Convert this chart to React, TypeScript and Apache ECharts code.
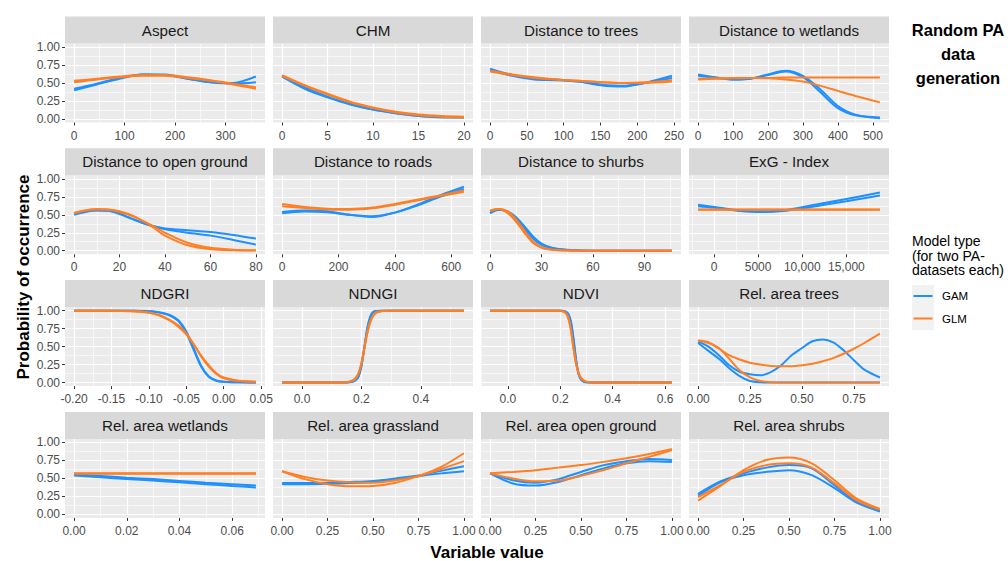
import React, { useEffect, useRef } from 'react';
import * as echarts from 'echarts';

// ---------- DATA ----------
const aspectX = [0, 45, 90, 135, 180, 225, 270, 315, 360];
const aspectGam1 = [0.40, 0.48, 0.56, 0.62, 0.62, 0.56, 0.51, 0.50, 0.59];
const aspectGam2 = [0.42, 0.49, 0.57, 0.62, 0.61, 0.56, 0.51, 0.49, 0.51];
const aspectGlm1 = [0.53, 0.56, 0.59, 0.61, 0.61, 0.58, 0.54, 0.49, 0.44];
const aspectGlm2 = [0.51, 0.55, 0.58, 0.60, 0.60, 0.57, 0.53, 0.48, 0.42];

const chmX = [0, 2.5, 5, 7.5, 10, 12.5, 15, 17.5, 20];
const chmGam1 = [0.60, 0.44, 0.31, 0.21, 0.13, 0.08, 0.05, 0.03, 0.02];
const chmGam2 = [0.59, 0.42, 0.30, 0.20, 0.13, 0.08, 0.04, 0.02, 0.02];
const chmGlm1 = [0.61, 0.47, 0.35, 0.24, 0.16, 0.10, 0.06, 0.04, 0.03];
const chmGlm2 = [0.60, 0.46, 0.34, 0.23, 0.15, 0.09, 0.05, 0.03, 0.02];

const treesX = [0, 30, 60, 90, 120, 150, 180, 210, 247];
const treesGam1 = [0.70, 0.61, 0.56, 0.55, 0.52, 0.47, 0.45, 0.50, 0.60];
const treesGam2 = [0.68, 0.60, 0.55, 0.54, 0.52, 0.48, 0.46, 0.50, 0.57];
const treesGlm1 = [0.67, 0.62, 0.58, 0.55, 0.53, 0.51, 0.50, 0.51, 0.54];
const treesGlm2 = [0.66, 0.61, 0.57, 0.55, 0.53, 0.51, 0.50, 0.50, 0.52];

const wetX = [0, 50, 100, 150, 200, 250, 300, 350, 400, 450, 520];
const wetGam1 = [0.62, 0.58, 0.55, 0.56, 0.62, 0.67, 0.60, 0.41, 0.18, 0.06, 0.02];
const wetGam2 = [0.60, 0.57, 0.55, 0.56, 0.61, 0.66, 0.58, 0.37, 0.15, 0.05, 0.01];
const wetGlm1 = [0.56, 0.565, 0.57, 0.57, 0.57, 0.575, 0.575, 0.575, 0.575, 0.575, 0.575];
const wetGlm2 = [0.55, 0.56, 0.565, 0.57, 0.565, 0.55, 0.52, 0.46, 0.39, 0.32, 0.23];

const openX = [0, 5, 10, 15, 20, 25, 30, 35, 40, 50, 60, 70, 80];
const openGam1 = [0.51, 0.55, 0.565, 0.56, 0.52, 0.45, 0.39, 0.34, 0.31, 0.285, 0.26, 0.22, 0.17];
const openGam2 = [0.50, 0.54, 0.56, 0.555, 0.51, 0.45, 0.39, 0.34, 0.30, 0.25, 0.21, 0.15, 0.085];
const openGlm1 = [0.53, 0.56, 0.575, 0.57, 0.54, 0.49, 0.42, 0.34, 0.25, 0.11, 0.04, 0.015, 0.005];
const openGlm2 = [0.52, 0.56, 0.58, 0.575, 0.55, 0.50, 0.42, 0.32, 0.21, 0.075, 0.02, 0.005, 0.002];

const roadsX = [0, 80, 160, 240, 320, 400, 480, 560, 645];
const roadsGam1 = [0.54, 0.56, 0.55, 0.50, 0.47, 0.53, 0.64, 0.77, 0.89];
const roadsGam2 = [0.52, 0.545, 0.535, 0.50, 0.48, 0.53, 0.63, 0.75, 0.86];
const roadsGlm1 = [0.65, 0.61, 0.585, 0.58, 0.60, 0.65, 0.71, 0.77, 0.84];
const roadsGlm2 = [0.62, 0.595, 0.575, 0.57, 0.59, 0.64, 0.70, 0.76, 0.82];

const shrubDistX = [0, 5, 10, 15, 20, 25, 30, 35, 40, 50, 60, 80, 106];
const shrubDistGam1 = [0.53, 0.57, 0.55, 0.47, 0.34, 0.20, 0.10, 0.05, 0.025, 0.005, 0, 0, 0];
const shrubDistGam2 = [0.52, 0.57, 0.54, 0.45, 0.31, 0.17, 0.08, 0.04, 0.02, 0.003, 0, 0, 0];
const shrubDistGlm1 = [0.55, 0.58, 0.53, 0.41, 0.25, 0.11, 0.04, 0.015, 0.005, 0, 0, 0, 0];
const shrubDistGlm2 = [0.56, 0.58, 0.55, 0.44, 0.28, 0.13, 0.05, 0.02, 0.007, 0.001, 0, 0, 0];

const exgX = [-1800, 0, 2500, 5000, 7500, 10000, 12500, 15000, 18800];
const exgGam1 = [0.64, 0.61, 0.565, 0.545, 0.555, 0.605, 0.665, 0.72, 0.81];
const exgGam2 = [0.62, 0.60, 0.56, 0.54, 0.55, 0.59, 0.64, 0.69, 0.77];
const exgGlm1 = [0.575, 0.575, 0.575, 0.575, 0.575, 0.575, 0.575, 0.575, 0.575];
const exgGlm2 = [0.57, 0.57, 0.57, 0.57, 0.57, 0.57, 0.57, 0.57, 0.57];

const ndgriX = [-0.20, -0.15, -0.12, -0.10, -0.09, -0.08, -0.07, -0.06, -0.05, -0.04, -0.03, -0.02, -0.01, 0.00, 0.02, 0.043];
const ndgriGam1 = [1, 1, 1, 0.99, 0.98, 0.96, 0.92, 0.85, 0.69, 0.45, 0.22, 0.08, 0.025, 0.01, 0.002, 0];
const ndgriGam2 = [1, 1, 1, 0.995, 0.985, 0.965, 0.93, 0.86, 0.71, 0.47, 0.23, 0.085, 0.03, 0.01, 0.002, 0];
const ndgriGlm1 = [1, 1, 0.995, 0.975, 0.95, 0.915, 0.86, 0.79, 0.68, 0.53, 0.36, 0.22, 0.12, 0.06, 0.02, 0.01];
const ndgriGlm2 = [1, 1, 0.99, 0.97, 0.945, 0.905, 0.85, 0.77, 0.67, 0.53, 0.37, 0.24, 0.13, 0.07, 0.025, 0.01];

const ndngiX = [-0.067, 0.10, 0.15, 0.17, 0.18, 0.19, 0.20, 0.21, 0.22, 0.23, 0.24, 0.25, 0.27, 0.30, 0.40, 0.545];
const ndngiGam1 = [0, 0, 0.001, 0.01, 0.03, 0.08, 0.22, 0.48, 0.75, 0.91, 0.98, 0.995, 1, 1, 1, 1];
const ndngiGam2 = [0, 0, 0.001, 0.012, 0.035, 0.09, 0.24, 0.50, 0.76, 0.92, 0.985, 0.997, 1, 1, 1, 1];
const ndngiGlm1 = [0, 0, 0.005, 0.03, 0.06, 0.13, 0.27, 0.48, 0.69, 0.84, 0.93, 0.97, 0.995, 1, 1, 1];
const ndngiGlm2 = [0, 0, 0.004, 0.025, 0.055, 0.12, 0.26, 0.48, 0.70, 0.86, 0.94, 0.98, 0.997, 1, 1, 1];

const ndviX = [-0.068, 0.10, 0.20, 0.21, 0.22, 0.23, 0.24, 0.25, 0.26, 0.27, 0.28, 0.29, 0.30, 0.32, 0.40, 0.626];
const ndviGam1 = [1, 1, 1, 0.998, 0.99, 0.96, 0.86, 0.63, 0.33, 0.12, 0.04, 0.01, 0.003, 0, 0, 0];
const ndviGam2 = [1, 1, 1, 0.997, 0.985, 0.95, 0.84, 0.60, 0.31, 0.11, 0.035, 0.01, 0.002, 0, 0, 0];
const ndviGlm1 = [1, 1, 0.998, 0.99, 0.975, 0.91, 0.75, 0.49, 0.26, 0.125, 0.055, 0.025, 0.01, 0.002, 0, 0];
const ndviGlm2 = [1, 1, 0.998, 0.99, 0.97, 0.90, 0.74, 0.49, 0.27, 0.13, 0.06, 0.028, 0.012, 0.003, 0, 0];

const relTreesX = [0, 0.05, 0.10, 0.15, 0.20, 0.25, 0.30, 0.35, 0.40, 0.45, 0.50, 0.55, 0.60, 0.65, 0.70, 0.75, 0.80, 0.875];
const relTreesGam1 = [0.57, 0.50, 0.38, 0.24, 0.15, 0.115, 0.10, 0.145, 0.24, 0.38, 0.48, 0.575, 0.60, 0.56, 0.45, 0.31, 0.18, 0.07];
const relTreesGam2 = [0.55, 0.44, 0.33, 0.20, 0.09, 0.02, 0.003, 0, 0, 0, 0, 0, 0, 0, 0, 0, 0, 0];
const relTreesGlm1 = [0.585, 0.56, 0.47, 0.38, 0.32, 0.275, 0.25, 0.23, 0.225, 0.225, 0.24, 0.26, 0.295, 0.34, 0.40, 0.47, 0.55, 0.68];
const relTreesGlm2 = [0.585, 0.55, 0.48, 0.33, 0.17, 0.07, 0.02, 0.005, 0, 0, 0, 0, 0, 0, 0, 0, 0, 0];

const relWetX = [0, 0.01, 0.02, 0.03, 0.04, 0.05, 0.06, 0.069];
const relWetGam1 = [0.555, 0.535, 0.51, 0.49, 0.465, 0.44, 0.42, 0.40];
const relWetGam2 = [0.54, 0.515, 0.49, 0.47, 0.445, 0.42, 0.395, 0.375];
const relWetGlm1 = [0.57, 0.57, 0.57, 0.57, 0.57, 0.57, 0.57, 0.57];
const relWetGlm2 = [0.565, 0.565, 0.565, 0.565, 0.565, 0.565, 0.565, 0.565];

const grassX = [0, 0.125, 0.25, 0.375, 0.5, 0.625, 0.75, 0.875, 1.0];
const grassGam1 = [0.435, 0.435, 0.44, 0.45, 0.465, 0.50, 0.54, 0.605, 0.67];
const grassGam2 = [0.42, 0.42, 0.425, 0.435, 0.45, 0.48, 0.53, 0.57, 0.60];
const grassGlm1 = [0.60, 0.52, 0.47, 0.445, 0.44, 0.475, 0.535, 0.66, 0.85];
const grassGlm2 = [0.60, 0.49, 0.42, 0.39, 0.395, 0.44, 0.53, 0.63, 0.74];

const relOpenX = [0, 0.125, 0.25, 0.375, 0.5, 0.625, 0.75, 0.875, 1.0];
const relOpenGam1 = [0.57, 0.475, 0.44, 0.49, 0.59, 0.685, 0.74, 0.77, 0.755];
const relOpenGam2 = [0.57, 0.43, 0.40, 0.45, 0.545, 0.64, 0.71, 0.74, 0.73];
const relOpenGlm1 = [0.57, 0.59, 0.615, 0.65, 0.685, 0.73, 0.78, 0.84, 0.91];
const relOpenGlm2 = [0.57, 0.50, 0.46, 0.47, 0.535, 0.615, 0.71, 0.80, 0.895];

const relShrubX = [0, 0.125, 0.25, 0.375, 0.5, 0.625, 0.75, 0.875, 1.0];
const relShrubGam1 = [0.285, 0.46, 0.57, 0.65, 0.685, 0.64, 0.405, 0.17, 0.05];
const relShrubGam2 = [0.26, 0.45, 0.545, 0.59, 0.615, 0.545, 0.365, 0.16, 0.04];
const relShrubGlm1 = [0.19, 0.40, 0.615, 0.755, 0.79, 0.71, 0.475, 0.215, 0.075];
const relShrubGlm2 = [0.24, 0.41, 0.59, 0.685, 0.71, 0.65, 0.43, 0.19, 0.065];

// tick values and labels
const aspectTicks = [0, 100, 200, 300];
const aspectLabels = ['0', '100', '200', '300'];
const chmTicks = [0, 5, 10, 15, 20];
const chmLabels = ['0', '5', '10', '15', '20'];
const treesTicks = [0, 50, 100, 150, 200, 250];
const treesLabels = ['0', '50', '100', '150', '200', '250'];
const wetTicks = [0, 100, 200, 300, 400, 500];
const wetLabels = ['0', '100', '200', '300', '400', '500'];
const openTicks = [0, 20, 40, 60, 80];
const openLabels = ['0', '20', '40', '60', '80'];
const roadsTicks = [0, 200, 400, 600];
const roadsLabels = ['0', '200', '400', '600'];
const shrubDistTicks = [0, 30, 60, 90];
const shrubDistLabels = ['0', '30', '60', '90'];
const exgTicks = [0, 5000, 10000, 15000];
const exgLabels = ['0', '5000', '10,000', '15,000'];
const ndgriTicks = [-0.2, -0.15, -0.1, -0.05, 0, 0.05];
const ndgriLabels = ['-0.20', '-0.15', '-0.10', '-0.05', '0.00', '0.05'];
const ndngiTicks = [0, 0.2, 0.4];
const ndngiLabels = ['0.0', '0.2', '0.4'];
const ndviTicks = [0, 0.2, 0.4, 0.6];
const ndviLabels = ['0.0', '0.2', '0.4', '0.6'];
const relTreesTicks = [0, 0.25, 0.5, 0.75];
const relTreesLabels = ['0.00', '0.25', '0.50', '0.75'];
const relWetTicks = [0, 0.02, 0.04, 0.06];
const relWetLabels = ['0.00', '0.02', '0.04', '0.06'];
const unitTicks = [0, 0.25, 0.5, 0.75, 1];
const unitLabels = ['0.00', '0.25', '0.50', '0.75', '1.00'];
const yTicks = [0, 0.25, 0.5, 0.75, 1];
const yLabels = ['0.00', '0.25', '0.50', '0.75', '1.00'];

const panels = [
  { title: 'Aspect', x: aspectX, gam: [aspectGam1, aspectGam2], glm: [aspectGlm1, aspectGlm2], ticks: aspectTicks, labels: aspectLabels },
  { title: 'CHM', x: chmX, gam: [chmGam1, chmGam2], glm: [chmGlm1, chmGlm2], ticks: chmTicks, labels: chmLabels },
  { title: 'Distance to trees', x: treesX, gam: [treesGam1, treesGam2], glm: [treesGlm1, treesGlm2], ticks: treesTicks, labels: treesLabels },
  { title: 'Distance to wetlands', x: wetX, gam: [wetGam1, wetGam2], glm: [wetGlm1, wetGlm2], ticks: wetTicks, labels: wetLabels },
  { title: 'Distance to open ground', x: openX, gam: [openGam1, openGam2], glm: [openGlm1, openGlm2], ticks: openTicks, labels: openLabels },
  { title: 'Distance to roads', x: roadsX, gam: [roadsGam1, roadsGam2], glm: [roadsGlm1, roadsGlm2], ticks: roadsTicks, labels: roadsLabels },
  { title: 'Distance to shurbs', x: shrubDistX, gam: [shrubDistGam1, shrubDistGam2], glm: [shrubDistGlm1, shrubDistGlm2], ticks: shrubDistTicks, labels: shrubDistLabels },
  { title: 'ExG - Index', x: exgX, gam: [exgGam1, exgGam2], glm: [exgGlm1, exgGlm2], ticks: exgTicks, labels: exgLabels },
  { title: 'NDGRI', x: ndgriX, gam: [ndgriGam1, ndgriGam2], glm: [ndgriGlm1, ndgriGlm2], ticks: ndgriTicks, labels: ndgriLabels },
  { title: 'NDNGI', x: ndngiX, gam: [ndngiGam1, ndngiGam2], glm: [ndngiGlm1, ndngiGlm2], ticks: ndngiTicks, labels: ndngiLabels },
  { title: 'NDVI', x: ndviX, gam: [ndviGam1, ndviGam2], glm: [ndviGlm1, ndviGlm2], ticks: ndviTicks, labels: ndviLabels },
  { title: 'Rel. area trees', x: relTreesX, gam: [relTreesGam1, relTreesGam2], glm: [relTreesGlm1, relTreesGlm2], ticks: relTreesTicks, labels: relTreesLabels },
  { title: 'Rel. area wetlands', x: relWetX, gam: [relWetGam1, relWetGam2], glm: [relWetGlm1, relWetGlm2], ticks: relWetTicks, labels: relWetLabels },
  { title: 'Rel. area grassland', x: grassX, gam: [grassGam1, grassGam2], glm: [grassGlm1, grassGlm2], ticks: unitTicks, labels: unitLabels },
  { title: 'Rel. area open ground', x: relOpenX, gam: [relOpenGam1, relOpenGam2], glm: [relOpenGlm1, relOpenGlm2], ticks: unitTicks, labels: unitLabels },
  { title: 'Rel. area shrubs', x: relShrubX, gam: [relShrubGam1, relShrubGam2], glm: [relShrubGlm1, relShrubGlm2], ticks: unitTicks, labels: unitLabels },
];

// ---------- STYLE ----------
const FONT = '"Liberation Sans", Arial, Helvetica, sans-serif';
const BLUE = '#1E90FF';
const ORANGE = '#FF7F24';
const PANEL_W = 200;
const PANEL_H = 79;
const STRIP_H = 27;
const COL_X = [65, 273, 481, 689];
const ROW_Y = [43.5, 175.3, 307.1, 438.9];

function expand(xs: number[]): [number, number] {
  const a = xs[0];
  const b = xs[xs.length - 1];
  const d = (b - a) * 0.05;
  return [a - d, b + d];
}

function minorsOf(ticks: number[], lo: number, hi: number) {
  const step = ticks[1] - ticks[0];
  const out: number[] = [];
  for (let k = -1; k < ticks.length; k++) {
    const v = ticks[0] + (k + 0.5) * step;
    if (v > lo && v < hi) out.push(v);
  }
  return out;
}

function labelFor(ticks: number[], labels: string[]) {
  return (v: number) => {
    let best = 0;
    for (let i = 1; i < ticks.length; i++) {
      if (Math.abs(ticks[i] - v) < Math.abs(ticks[best] - v)) best = i;
    }
    return labels[best];
  };
}

function buildOption() {
  const grid: any[] = [];
  const xAxis: any[] = [];
  const yAxis: any[] = [];
  const series: any[] = [];
  const graphic: any[] = [];

  panels.forEach((p, i) => {
    const r = Math.floor(i / 4);
    const c = i % 4;
    const left = COL_X[c];
    const top = ROW_Y[r];
    grid.push({
      left, top, width: PANEL_W, height: PANEL_H,
      show: true, backgroundColor: '#EBEBEB', borderWidth: 0, containLabel: false,
    });
    const [lo, hi] = expand(p.x);
    const xMin = minorsOf(p.ticks, lo, hi);
    const yMin = minorsOf(yTicks, -0.05, 1.05);
    // minor x axis
    xAxis.push({
      gridIndex: i, type: 'value', min: lo, max: hi, position: 'top',
      axisLine: { show: false, onZero: false },
      axisTick: { show: false, customValues: xMin },
      axisLabel: { show: false, customValues: xMin },
      splitLine: { show: true, lineStyle: { color: '#FFFFFF', width: 0.6 } },
    });
    // major x axis
    xAxis.push({
      gridIndex: i, type: 'value', min: lo, max: hi, position: 'bottom',
      axisLine: { show: false, onZero: false },
      axisTick: { show: true, length: 3, customValues: p.ticks, lineStyle: { color: '#333333', width: 1 } },
      axisLabel: {
        show: true, customValues: p.ticks, formatter: labelFor(p.ticks, p.labels),
        color: '#4D4D4D', fontSize: 12, fontFamily: FONT, margin: 7,
      },
      splitLine: { show: true, lineStyle: { color: '#FFFFFF', width: 1.2 } },
    });
    yAxis.push({
      gridIndex: i, type: 'value', min: -0.05, max: 1.05, position: 'right',
      axisLine: { show: false, onZero: false },
      axisTick: { show: false, customValues: yMin },
      axisLabel: { show: false, customValues: yMin },
      splitLine: { show: true, lineStyle: { color: '#FFFFFF', width: 0.6 } },
    });
    yAxis.push({
      gridIndex: i, type: 'value', min: -0.05, max: 1.05, position: 'left',
      axisLine: { show: false, onZero: false },
      axisTick: { show: c === 0, length: 3, customValues: yTicks, lineStyle: { color: '#333333', width: 1 } },
      axisLabel: {
        show: c === 0, customValues: yTicks, formatter: labelFor(yTicks, yLabels),
        color: '#4D4D4D', fontSize: 12, fontFamily: FONT, margin: 5,
      },
      splitLine: { show: true, lineStyle: { color: '#FFFFFF', width: 1.2 } },
    });
    const mk = (ys: number[], color: string, name: string) => ({
      type: 'line', name, xAxisIndex: 2 * i + 1, yAxisIndex: 2 * i + 1,
      data: p.x.map((xv, k) => [xv, ys[k]]),
      showSymbol: false, symbol: 'none', smooth: 0.3, silent: true,
      lineStyle: { color, width: 2 }, z: 3,
    });
    series.push(mk(p.gam[0], BLUE, 'GAM'));
    series.push(mk(p.gam[1], BLUE, 'GAM'));
    series.push(mk(p.glm[0], ORANGE, 'GLM'));
    series.push(mk(p.glm[1], ORANGE, 'GLM'));

    graphic.push({
      type: 'rect', silent: true, z: 1,
      shape: { x: left, y: top - STRIP_H, width: PANEL_W, height: STRIP_H },
      style: { fill: '#D9D9D9' },
    });
    graphic.push({
      type: 'text', silent: true, z: 2, x: left + PANEL_W / 2, y: top - STRIP_H / 2,
      style: {
        text: p.title, fill: '#1A1A1A', font: `15.2px ${FONT}`,
        align: 'center', verticalAlign: 'middle',
      },
    });
  });

  // Title
  ['Random PA', 'data', 'generation'].forEach((t, k) => {
    graphic.push({
      type: 'text', silent: true, x: 958, y: 30 + k * 24,
      style: { text: t, fill: '#000000', font: `bold 16.5px ${FONT}`, align: 'center', verticalAlign: 'middle' },
    });
  });
  // Axis titles
  graphic.push({
    type: 'text', silent: true, x: 23, y: 277, rotation: Math.PI / 2,
    style: { text: 'Probability of occurrence', fill: '#000000', font: `bold 17px ${FONT}`, align: 'center', verticalAlign: 'middle' },
  });
  graphic.push({
    type: 'text', silent: true, x: 487, y: 552,
    style: { text: 'Variable value', fill: '#000000', font: `bold 17px ${FONT}`, align: 'center', verticalAlign: 'middle' },
  });
  // Legend
  ['Model type', '(for two PA-', 'datasets each)'].forEach((t, k) => {
    graphic.push({
      type: 'text', silent: true, x: 912, y: 241 + k * 14.7,
      style: { text: t, fill: '#000000', font: `14px ${FONT}`, align: 'left', verticalAlign: 'middle' },
    });
  });
  graphic.push({
    type: 'rect', silent: true, shape: { x: 912, y: 285, width: 22, height: 45 }, style: { fill: '#F2F2F2' },
  });
  [['GAM', BLUE, 296], ['GLM', ORANGE, 318.5]].forEach(([t, col, y]) => {
    graphic.push({
      type: 'line', silent: true, shape: { x1: 913.5, y1: y as number, x2: 932.5, y2: y as number },
      style: { stroke: col as string, lineWidth: 2 },
    });
    graphic.push({
      type: 'text', silent: true, x: 942, y: y as number,
      style: { text: t as string, fill: '#000000', font: `11.5px ${FONT}`, align: 'left', verticalAlign: 'middle' },
    });
  });

  return {
    animation: false,
    backgroundColor: '#FFFFFF',
    grid, xAxis, yAxis, series, graphic,
  };
}

export default function App() {
  const ref = useRef<HTMLDivElement>(null);
  useEffect(() => {
    if (!ref.current) return;
    const chart = echarts.init(ref.current, undefined, { renderer: 'svg' });
    chart.setOption(buildOption() as any);
    return () => chart.dispose();
  }, []);
  return <div ref={ref} style={{ position: 'fixed', left: 0, top: 0, width: 1008, height: 561 }} />;
}
